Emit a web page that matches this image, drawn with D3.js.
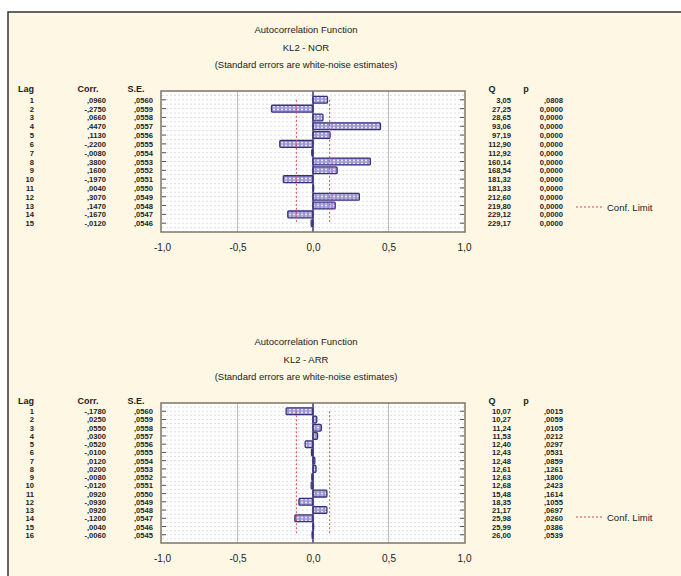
<!DOCTYPE html>
<html>
<head>
<meta charset="utf-8">
<script src="https://cdn.jsdelivr.net/npm/d3@7"></script>
<style>
body { margin: 0; background: #fff; }
text { font-family: "Liberation Sans", Arial, sans-serif; }
</style>
</head>
<body>
<svg id="viz" width="681" height="576"></svg>
<script>
// panel 1 : KL2 - NOR
var norLags = [1, 2, 3, 4, 5, 6, 7, 8, 9, 10, 11, 12, 13, 14, 15];
var norCorr = [0.0960, -0.2750, 0.0660, 0.4470, 0.1130, -0.2200, -0.0080, 0.3800, 0.1600, -0.1970, 0.0040, 0.3070, 0.1470, -0.1670, -0.0120];
var norSE = [",0560", ",0559", ",0558", ",0557", ",0556", ",0555", ",0554", ",0553", ",0552", ",0551", ",0550", ",0549", ",0548", ",0547", ",0546"];
var norQ = ["3,05", "27,25", "28,65", "93,06", "97,19", "112,90", "112,92", "160,14", "168,54", "181,32", "181,33", "212,60", "219,80", "229,12", "229,17"];
var norP = [",0808", "0,0000", "0,0000", "0,0000", "0,0000", "0,0000", "0,0000", "0,0000", "0,0000", "0,0000", "0,0000", "0,0000", "0,0000", "0,0000", "0,0000"];
var norConf = 0.11;

// panel 2 : KL2 - ARR
var arrLags = [1, 2, 3, 4, 5, 6, 7, 8, 9, 10, 11, 12, 13, 14, 15, 16];
var arrCorr = [-0.1780, 0.0250, 0.0550, 0.0300, -0.0520, -0.0100, 0.0120, 0.0200, -0.0080, -0.0120, 0.0920, -0.0930, 0.0920, -0.1200, 0.0040, -0.0060];
var arrSE = [",0560", ",0559", ",0558", ",0557", ",0556", ",0555", ",0554", ",0553", ",0552", ",0551", ",0550", ",0549", ",0548", ",0547", ",0546", ",0545"];
var arrQ = ["10,07", "10,27", "11,24", "11,53", "12,40", "12,43", "12,48", "12,61", "12,63", "12,68", "15,48", "18,35", "21,17", "25,98", "25,99", "26,00"];
var arrP = [",0015", ",0059", ",0105", ",0212", ",0297", ",0531", ",0859", ",1261", ",1800", ",2423", ",1614", ",1055", ",0697", ",0260", ",0386", ",0539"];
var arrConf = 0.11;

var xTicks = [-1, -0.5, 0, 0.5, 1];

var svg = d3.select("#viz");

// background + outer border
svg.append("rect").attr("x", 8).attr("y", 12).attr("width", 690).attr("height", 580)
  .style("fill", "#fdf7e3").style("stroke", "#333").style("stroke-width", 1.5);

// dotted bar fill
var pat = svg.append("defs").append("pattern").attr("id", "dots")
  .attr("width", 4).attr("height", 3).attr("patternUnits", "userSpaceOnUse");
pat.append("rect").attr("width", 4).attr("height", 3).style("fill", "#9c97d2");
pat.append("circle").attr("cx", 2).attr("cy", 1.5).attr("r", 0.9).style("fill", "#f4f2ff");

function fmtCorr(v) {
  var s = v.toFixed(4).replace(".", ",");
  return s.replace("0,", ",");
}

function make_panel(cfg) {
  var g = svg.append("g");
  var x = d3.scaleLinear().domain([-1, 1]).range([162, 464]);
  var n = cfg.lags.length;
  var y = d3.scaleLinear().domain([0, n + 1]).range([cfg.top, cfg.bottom]);

  // titles
  var titles = ["Autocorrelation Function", cfg.name, "(Standard errors are white-noise estimates)"];
  g.selectAll("text.title").data(titles).enter().append("text")
    .attr("x", 306).attr("y", function(d, i) { return cfg.top - 58 + i * 17.5; })
    .attr("text-anchor", "middle").style("font-size", "9.5px").style("fill", "#222")
    .text(function(d) { return d; });

  // plot area
  g.append("rect").attr("x", x(-1) - 1).attr("y", cfg.top)
    .attr("width", x(1) - x(-1) + 2).attr("height", cfg.bottom - cfg.top)
    .style("fill", "#fff");

  // horizontal grid
  var gridY = d3.range(0.5, n + 1, 0.5);
  g.selectAll("line.hg").data(gridY).enter().append("line")
    .attr("x1", x(-1)).attr("x2", x(1))
    .attr("y1", function(d) { return y(d); }).attr("y2", function(d) { return y(d); })
    .style("stroke", "#cfcfcf").style("stroke-width", 0.7).style("stroke-dasharray", "2,2");

  // vertical grid
  g.selectAll("line.vg").data([-0.5, 0.5]).enter().append("line")
    .attr("x1", function(d) { return x(d); }).attr("x2", function(d) { return x(d); })
    .attr("y1", cfg.top).attr("y2", cfg.bottom)
    .style("stroke", "#aaa").style("stroke-width", 0.8);

  // side ticks at each lag
  g.selectAll("line.lt").data(cfg.lags).enter().append("line")
    .attr("x1", x(-1)).attr("x2", x(-1) + 4)
    .attr("y1", function(d) { return y(d); }).attr("y2", function(d) { return y(d); })
    .style("stroke", "#555");
  g.selectAll("line.rt").data(cfg.lags).enter().append("line")
    .attr("x1", x(1) - 4).attr("x2", x(1))
    .attr("y1", function(d) { return y(d); }).attr("y2", function(d) { return y(d); })
    .style("stroke", "#555");

  // bars
  g.selectAll("rect.bar").data(cfg.corr).enter().append("rect")
    .attr("x", function(d) { return x(Math.min(0, d)); })
    .attr("y", function(d, i) { return y(cfg.lags[i]) - 3.4; })
    .attr("width", function(d) { return Math.abs(x(d) - x(0)); })
    .attr("height", 6.8).attr("rx", 1)
    .style("fill", "url(#dots)").style("stroke", "#36307e").style("stroke-width", 1.3);

  // zero line
  g.append("line").attr("x1", x(0)).attr("x2", x(0))
    .attr("y1", cfg.top).attr("y2", cfg.bottom)
    .style("stroke", "#3a3470").style("stroke-width", 1.5);

  // confidence limits
  [-cfg.conf, cfg.conf].forEach(function(c) {
    g.append("line").attr("x1", x(c)).attr("x2", x(c))
      .attr("y1", y(cfg.lags[0])).attr("y2", y(cfg.lags[n - 1]))
      .style("stroke", "#d05050").style("stroke-width", 1).style("stroke-dasharray", "2,2");
  });

  // frame
  g.append("rect").attr("x", x(-1) - 1).attr("y", cfg.top)
    .attr("width", x(1) - x(-1) + 2).attr("height", cfg.bottom - cfg.top)
    .style("fill", "none").style("stroke", "#7d776a").style("stroke-width", 1.5);

  // x axis
  var axis = d3.axisBottom(x).tickValues(xTicks).tickSize(0).tickPadding(12)
    .tickFormat(function(d) { return d3.format(".1f")(d).replace(".", ",").replace("−", "-"); });
  var ax = g.append("g").attr("transform", "translate(0," + cfg.bottom + ")").call(axis);
  ax.select(".domain").remove();
  ax.selectAll("text").style("font-size", "10px").style("fill", "#222")
    .style("font-family", "Liberation Sans, Arial, sans-serif");

  // table headers
  var hy = cfg.top + 1;
  var heads = [["Lag", 26], ["Corr.", 88], ["S.E.", 136], ["Q", 492], ["p", 526]];
  g.selectAll("text.head").data(heads).enter().append("text")
    .attr("x", function(d) { return d[1]; }).attr("y", hy)
    .attr("text-anchor", "middle").style("font-size", "9px").style("font-weight", "bold").style("fill", "#222")
    .text(function(d) { return d[0]; });

  // table rows
  function col(vals, xpos) {
    g.selectAll(null).data(vals).enter().append("text")
      .attr("x", xpos).attr("y", function(d, i) { return y(cfg.lags[i]) + 3; })
      .attr("text-anchor", "end").style("font-size", "7.6px").style("font-weight", "bold").style("fill", "#222")
      .text(function(d) { return d; });
  }
  col(cfg.lags, 34);
  col(cfg.corr.map(fmtCorr), 106);
  col(cfg.se, 153);
  col(cfg.q, 511);
  col(cfg.p, 563);

  // legend
  g.append("line").attr("x1", 576).attr("x2", 603)
    .attr("y1", cfg.legendY).attr("y2", cfg.legendY)
    .style("stroke", "#d05050").style("stroke-width", 1).style("stroke-dasharray", "2,2");
  g.append("text").attr("x", 607).attr("y", cfg.legendY + 3.5)
    .style("font-size", "9.5px").style("fill", "#222").text("Conf. Limit");
}

make_panel({ name: "KL2 - NOR", lags: norLags, corr: norCorr, se: norSE, q: norQ, p: norP,
  conf: norConf, top: 91, bottom: 232, legendY: 207 });
make_panel({ name: "KL2 - ARR", lags: arrLags, corr: arrCorr, se: arrSE, q: arrQ, p: arrP,
  conf: arrConf, top: 403, bottom: 543, legendY: 517 });
</script>
</body>
</html>
